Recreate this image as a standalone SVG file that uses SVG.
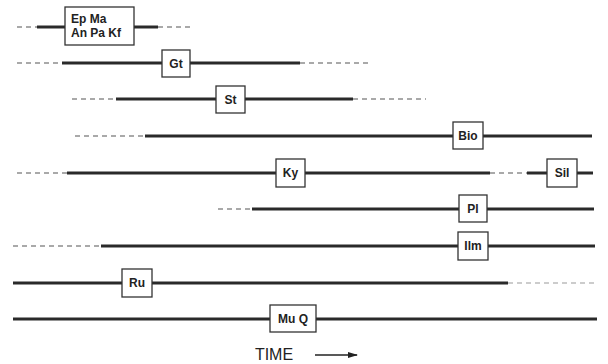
<svg xmlns="http://www.w3.org/2000/svg" width="608" height="364" viewBox="0 0 608 364">
<style>
.s{stroke:#2a2a2a;stroke-width:3;fill:none}
.d{stroke:#555;stroke-width:1.2;stroke-dasharray:5 4;fill:none}
.b{fill:#fff;stroke:#333;stroke-width:1.3}
.t{font-family:"Liberation Sans",Arial,sans-serif;font-size:12px;font-weight:bold;fill:#222;text-anchor:middle}
</style>
<defs><marker id="ah" markerWidth="10" markerHeight="6" refX="9" refY="3" orient="auto" markerUnits="userSpaceOnUse"><path d="M0,0 L10,3 L0,6 Z" fill="#222"/></marker></defs>
<rect width="608" height="364" fill="#fff"/>
<g id="connectors">
<line class="d" x1="17" y1="27" x2="37" y2="27"/><line class="s" x1="37" y1="27" x2="65" y2="27"/><line class="s" x1="134" y1="27" x2="158" y2="27"/><line class="d" x1="158" y1="27" x2="193" y2="27"/>
<line class="d" x1="17" y1="63" x2="62" y2="63"/><line class="s" x1="62" y1="63" x2="162" y2="63"/><line class="s" x1="190" y1="63" x2="300" y2="63"/><line class="d" x1="300" y1="63" x2="372" y2="63"/>
<line class="d" x1="72" y1="99" x2="116" y2="99"/><line class="s" x1="116" y1="99" x2="216" y2="99"/><line class="s" x1="245" y1="99" x2="353" y2="99"/><line class="d" x1="353" y1="99" x2="426" y2="99"/>
<line class="d" x1="75" y1="136" x2="145" y2="136"/><line class="s" x1="145" y1="136" x2="453" y2="136"/><line class="s" x1="483" y1="136" x2="592" y2="136"/>
<line class="d" x1="17" y1="173" x2="67" y2="173"/><line class="s" x1="67" y1="173" x2="276" y2="173"/><line class="s" x1="305" y1="173" x2="490" y2="173"/><line class="d" x1="490" y1="173" x2="527" y2="173"/><line class="s" x1="527" y1="173" x2="547" y2="173"/><line class="s" x1="577" y1="173" x2="593" y2="173"/>
<line class="d" x1="218" y1="209" x2="252" y2="209"/><line class="s" x1="252" y1="209" x2="459" y2="209"/><line class="s" x1="487" y1="209" x2="594" y2="209"/>
<line class="d" x1="13" y1="246" x2="101" y2="246"/><line class="s" x1="101" y1="246" x2="458" y2="246"/><line class="s" x1="488" y1="246" x2="595" y2="246"/>
<line class="s" x1="13" y1="283" x2="122" y2="283"/><line class="s" x1="152" y1="283" x2="508" y2="283"/><line class="d" x1="508" y1="283" x2="596" y2="283" style="stroke:#999"/>
<line class="s" x1="13" y1="319" x2="270" y2="319"/><line class="s" x1="316" y1="319" x2="597" y2="319"/>
<line x1="315" y1="355" x2="357" y2="355" stroke="#222" stroke-width="1.3" marker-end="url(#ah)"/>
</g>
<g id="n1"><rect class="b" x="65" y="7" width="69" height="38"/><text class="t" x="71" y="23" text-anchor="start" style="text-anchor:start">Ep Ma</text><text class="t" x="71" y="37" style="text-anchor:start">An Pa Kf</text></g>
<g id="n2"><rect class="b" x="162" y="50" width="28" height="27"/><text class="t" x="176" y="68">Gt</text></g>
<g id="n3"><rect class="b" x="216" y="86" width="29" height="27"/><text class="t" x="230.5" y="104">St</text></g>
<g id="n4"><rect class="b" x="453" y="122" width="30" height="27"/><text class="t" x="468" y="140">Bio</text></g>
<g id="n5"><rect class="b" x="276" y="159" width="29" height="28"/><text class="t" x="290.5" y="177">Ky</text></g>
<g id="n6"><rect class="b" x="547" y="159" width="30" height="28"/><text class="t" x="562" y="177">Sil</text></g>
<g id="n7"><rect class="b" x="459" y="195" width="28" height="27"/><text class="t" x="473" y="213">Pl</text></g>
<g id="n8"><rect class="b" x="458" y="232" width="30" height="28"/><text class="t" x="473" y="250">Ilm</text></g>
<g id="n9"><rect class="b" x="122" y="269" width="30" height="28"/><text class="t" x="137" y="287">Ru</text></g>
<g id="n10"><rect class="b" x="270" y="305" width="46" height="27"/><text class="t" x="293" y="323">Mu Q</text></g>
<text x="274" y="360" font-family="'Liberation Sans',Arial,sans-serif" font-size="16" fill="#222" text-anchor="middle">TIME</text>
</svg>
